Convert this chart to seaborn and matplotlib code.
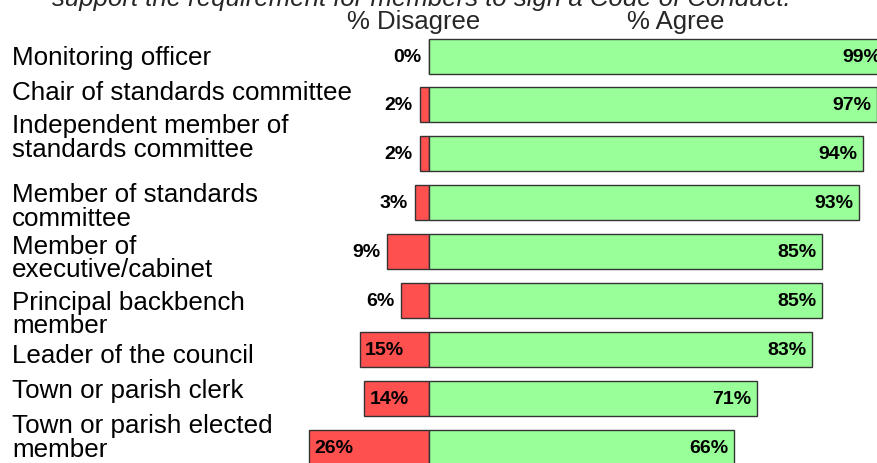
import matplotlib
matplotlib.use("Agg")
import matplotlib.pyplot as plt
import matplotlib.transforms as mtransforms
import seaborn as sns
import pandas as pd

# ---- data ----
roles = [
    "Monitoring officer",
    "Chair of standards committee",
    "Independent member of\nstandards committee",
    "Member of standards\ncommittee",
    "Member of\nexecutive/cabinet",
    "Principal backbench\nmember",
    "Leader of the council",
    "Town or parish clerk",
    "Town or parish elected\nmember",
]
disagree = [0, 2, 2, 3, 9, 6, 15, 14, 26]
agree = [99, 97, 94, 93, 85, 85, 83, 71, 66]
headers = ["% Disagree", "% Agree"]
title_text = "support the requirement for members to sign a Code of Conduct."

# ---- layout (not data) ----
W, H, DPI = 878, 464, 100
zero_px = 429.0
px_per_pct = 4.62
row0_px = 57.0
row_pitch = 48.9
bar_h_px = 35.0
label_shift_px = [1, -13, -17, 3, 6, 13, 6, -8, -10]

RED = "#FF5050"
GREEN = "#99FF99"
EDGE = "#333333"

sns.set_theme(style="white")
plt.rcParams["font.family"] = ["Liberation Sans", "DejaVu Sans"]

df = pd.DataFrame({
    "role": roles * 2,
    "side": ["Disagree"] * len(roles) + ["Agree"] * len(roles),
    "value": [-v for v in disagree] + agree,
})

fig = plt.figure(figsize=(W / DPI, H / DPI), dpi=DPI)
ax = fig.add_axes([0, 0, 1, 1])

sns.barplot(
    data=df, x="value", y="role", hue="side", order=roles,
    palette={"Disagree": RED, "Agree": GREEN}, dodge=False,
    width=bar_h_px / row_pitch, edgecolor=EDGE, linewidth=1.0,
    legend=False, ax=ax, orient="h", saturation=1,
)

ax.set_xlim(-zero_px / px_per_pct, (W - zero_px) / px_per_pct)
ax.set_ylim((H - row0_px) / row_pitch, -row0_px / row_pitch)
ax.axis("off")

pad = 5.5 / px_per_pct
vfont = 14
for i, (d, a) in enumerate(zip(disagree, agree)):
    if d > 10:
        ax.text(-d + pad, i, f"{d}%", ha="left", va="center",
                fontsize=vfont, fontweight="bold", color="black")
    else:
        ax.text(-d - pad * 1.3, i, f"{d}%", ha="right", va="center",
                fontsize=vfont, fontweight="bold", color="black")
    ax.text(a - pad, i, f"{a}%", ha="right", va="center",
            fontsize=vfont, fontweight="bold", color="black")

trans = mtransforms.blended_transform_factory(fig.transFigure, ax.transData)
for i, lab in enumerate(roles):
    ax.text(12 / W, i + label_shift_px[i] / row_pitch, lab, transform=trans,
            ha="left", va="center", fontsize=18.7, linespacing=0.98,
            color="black")

fig.text(414 / W, 1 - 22 / H, headers[0], ha="center", va="center", fontsize=18.5)
fig.text(676 / W, 1 - 22 / H, headers[1], ha="center", va="center", fontsize=18.5)
fig.text(421 / W, 1 - 6 / H, title_text, ha="center", va="baseline",
         fontsize=18.5, style="italic")

fig.savefig("out.png", dpi=DPI)
